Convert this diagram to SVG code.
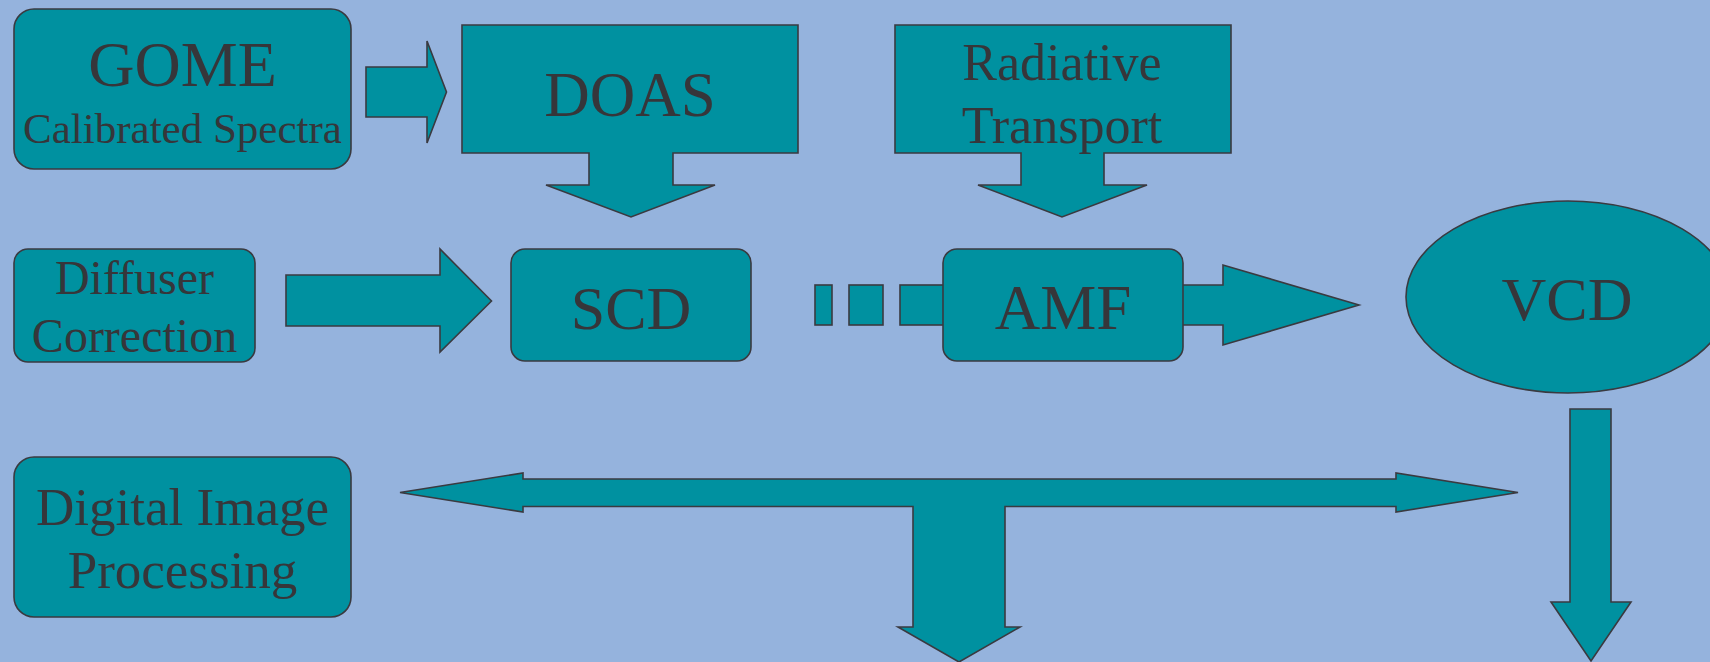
<svg xmlns="http://www.w3.org/2000/svg" width="1710" height="662" viewBox="0 0 1710 662">
<style>
.bg{fill:#95B3DD}
.sh{fill:#0091A0;stroke:#3a3a40;stroke-width:1.6;stroke-linejoin:miter}
.t{font-family:"Liberation Serif","Times New Roman",serif;fill:#36363a;text-anchor:middle}
</style>
<rect class="bg" x="0" y="0" width="1710" height="662"/>
<g id="connectors">
<path id="c-gome-doas" class="sh" d="M366,67 H427 V41 L446.5,92 L427,143 V117 H366 Z"/>
<path id="c-diffuser-scd" class="sh" d="M286,275 H440 V249 L491.5,301 L440,352 V326 H286 Z"/>
<g id="c-scd-amf">
<rect class="sh" x="815" y="285" width="17" height="40"/>
<rect class="sh" x="849" y="285" width="34" height="40"/>
<rect class="sh" x="900" y="285" width="46" height="40"/>
</g>
<path id="c-amf-vcd" class="sh" d="M1180,285 H1223 V265 L1359,305 L1223,345 V325 H1180 Z"/>
<path id="c-vcd-down" class="sh" d="M1570,409 H1611 V602 H1631 L1591,661 L1551,602 H1570 Z"/>
<path id="c-dip-t" class="sh" d="M400,492.5 L523,473 V479 H1396 V473 L1518,492.5 L1396,512 V506.5 H1005 V627 H1020 L959,662 L898,627 H913 V506.5 H523 V512 Z"/>
</g>
<g id="gome">
<rect class="sh" x="14" y="9" width="337" height="160" rx="20"/>
<text class="t" x="182.5" y="86" font-size="64">GOME</text>
<text class="t" x="182.5" y="143" font-size="43">Calibrated Spectra</text>
</g>
<g id="doas">
<path class="sh" d="M462,25 H798 V153 H673 V185 H715 L631,217 L546,185 H589 V153 H462 Z"/>
<text class="t" x="630" y="116" font-size="63">DOAS</text>
</g>
<g id="radiative">
<path class="sh" d="M895,25 H1231 V153 H1104 V185 H1147 L1062,217 L978,185 H1021 V153 H895 Z"/>
<text class="t" x="1062" y="80" font-size="52">Radiative</text>
<text class="t" x="1062" y="143" font-size="52">Transport</text>
</g>
<g id="diffuser">
<rect class="sh" x="14" y="249" width="241" height="113" rx="14"/>
<text class="t" x="134.5" y="294" font-size="48">Diffuser</text>
<text class="t" x="134.5" y="352" font-size="48">Correction</text>
</g>
<g id="scd">
<rect class="sh" x="511" y="249" width="240" height="112" rx="14"/>
<text class="t" x="631" y="329" font-size="62">SCD</text>
</g>
<g id="amf">
<rect class="sh" x="943" y="249" width="240" height="112" rx="14"/>
<text class="t" x="1063" y="329" font-size="63">AMF</text>
</g>
<g id="vcd">
<ellipse class="sh" cx="1568" cy="297" rx="162" ry="96"/>
<text class="t" x="1567" y="320" font-size="62">VCD</text>
</g>
<g id="dip">
<rect class="sh" x="14" y="457" width="337" height="160" rx="20"/>
<text class="t" x="182.5" y="525" font-size="53">Digital Image</text>
<text class="t" x="182.5" y="588" font-size="53">Processing</text>
</g>
</svg>
